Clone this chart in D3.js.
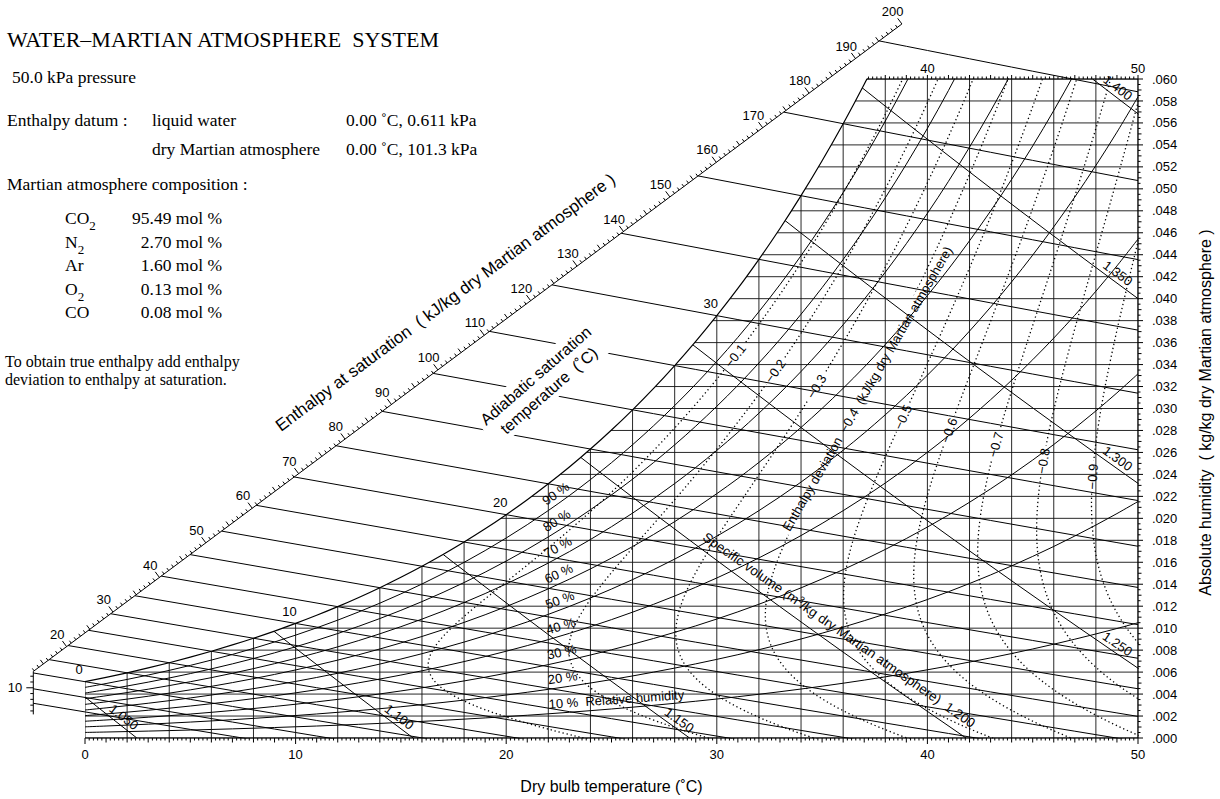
<!DOCTYPE html>
<html>
<head>
<meta charset="utf-8">
<title>Water–Martian atmosphere psychrometric chart</title>
<script src="https://cdn.jsdelivr.net/npm/d3@7/dist/d3.min.js"></script>
<style>
  html, body { margin: 0; padding: 0; background: #fff; }
  svg { display: block; }
  text { white-space: pre; fill: #000; }
  .serif { font-family: "Liberation Serif", "Times New Roman", Times, serif; }
  .sans { font-family: "Liberation Sans", Arial, Helvetica, sans-serif; }
  .ln { fill: none; stroke: #000; stroke-width: 1; }
  .grid { fill: none; stroke: #111; stroke-width: 0.9; }
  .dot { fill: none; stroke: #000; stroke-width: 1.3; stroke-dasharray: 1.3 2.8; }
</style>
</head>
<body>
<svg id="chart" width="1220" height="799"></svg>
<script>
// ---------------- chart data ----------------
const totalPressure = 50.0;                       // kPa
const gasNames   = ["CO", "N", "Ar", "O", "CO"];
const gasSubs    = ["2", "2", "", "2", ""];
const molPercent = [95.49, 2.70, 1.60, 0.13, 0.08];
const molarMass  = [44.010, 28.013, 39.948, 31.999, 28.010];
const waterMolarMass = 18.015;

// saturation vapour pressure of water (kPa) by temperature (°C)
const tableTemps = [-6, -5, -4, -3, -2, -1, 0, 1, 2, 3, 4, 5, 6, 7, 8, 9, 10, 11, 12, 13, 14, 15,
  16, 17, 18, 19, 20, 21, 22, 23, 24, 25, 26, 27, 28, 29, 30, 31, 32, 33, 34, 35, 36, 37, 38, 39,
  40, 41, 42, 43, 44, 45, 46, 47, 48, 49, 50];
const satPressure = [0.3689, 0.4017, 0.4375, 0.4760, 0.5177, 0.5626, 0.6113, 0.6571, 0.7060,
  0.7580, 0.8135, 0.8725, 0.9353, 1.0020, 1.0729, 1.1481, 1.2281, 1.3128, 1.4027, 1.4979, 1.5989,
  1.7057, 1.8187, 1.9380, 2.0647, 2.1978, 2.3392, 2.4878, 2.6452, 2.8104, 2.9856, 3.1698, 3.3637,
  3.5679, 3.7828, 4.0087, 4.2467, 4.4958, 4.7592, 5.0345, 5.3247, 5.6290, 5.9475, 6.2815, 6.6324,
  6.9993, 7.3844, 7.7858, 8.2090, 8.6499, 9.1118, 9.5944, 10.0988, 10.6265, 11.1764, 11.7502, 12.3513];

const gridTemps = [0, 2, 4, 6, 8, 10, 12, 14, 16, 18, 20, 22, 24, 26, 28, 30, 32, 34, 36, 38, 40,
  42, 44, 46, 48, 50];
const humidityTicks = [0.000, 0.002, 0.004, 0.006, 0.008, 0.010, 0.012, 0.014, 0.016, 0.018, 0.020,
  0.022, 0.024, 0.026, 0.028, 0.030, 0.032, 0.034, 0.036, 0.038, 0.040, 0.042, 0.044, 0.046, 0.048,
  0.050, 0.052, 0.054, 0.056, 0.058, 0.060];
const dryBulbTicks = [0, 10, 20, 30, 40, 50];
const topTempTicks = [40, 50];
const enthalpyTicks = [10, 20, 30, 40, 50, 60, 70, 80, 90, 100, 110, 120, 130, 140, 150, 160, 170,
  180, 190, 200];
const rhLevels = [10, 20, 30, 40, 50, 60, 70, 80, 90];
const adiabaticTemps = [-4, -2, 0, 2, 4, 6, 8, 10, 12, 14, 16, 18, 20, 22, 24, 26, 28, 30, 32, 34, 36, 38];
const adiabaticLabelTemps = [0, 10, 20, 30];
const volumeLevels = [1.05, 1.10, 1.15, 1.20, 1.25, 1.30, 1.35, 1.40];
const deviationLevels = [-0.1, -0.2, -0.3, -0.4, -0.5, -0.6, -0.7, -0.8, -0.9];

// property constants used to build the line families
const gasHeat = 0.80, vapourHeat = 1.86, liquidHeat = 4.186, latentHeat = 2501.0;
const gasConstant = 8.314, compressibility = 0.9963;
const deviationSpacing = 1.10;

// label placement
const rhLabelTemp = 22;
const devLabelHumidity = [0.0348, 0.0334, 0.0320, 0.0289, 0.0292, 0.0280, 0.0267, 0.0252, 0.0238];
const lowVolumeLabelHumidity = [0.0013, 0.0013, 0.0010];
const highVolumeLabelTemp = 48.8;

// ---------------- setup ----------------
const W = 1220, H = 799;
const svg = d3.select("#chart");
const defs = svg.append("defs");

const x = d3.scaleLinear().domain([0, 50]).range([85, 1138]);
const y = d3.scaleLinear().domain([0, 0.06]).range([738, 79]);
const P = d => [x(d[0]), y(d[1])];
const smooth = d3.line().curve(d3.curveCatmullRom.alpha(0.5));
const straight = d3.line();
const deg = r => r * 180 / Math.PI;
const angleOf = (a, b) => deg(Math.atan2(b[1] - a[1], b[0] - a[0]));

const gasMolarMass = d3.sum(molPercent, (p, i) => p * molarMass[i]) / d3.sum(molPercent);
const massRatio = waterMolarMass / gasMolarMass;
const humidityAt = p => massRatio * p / (totalPressure - p);
const satHumidity = satPressure.map(humidityAt);
const wsAt = t => satHumidity[tableTemps.indexOf(t)];
const psAt = t => satPressure[tableTemps.indexOf(t)];

// adiabatic saturation line through (ts, ws)
function adiabaticW(ts, t) {
  const ws = wsAt(ts);
  return (ws * (latentHeat + (vapourHeat - liquidHeat) * ts) - gasHeat * (t - ts)) /
         (latentHeat + vapourHeat * t - liquidHeat * ts);
}
function adiabaticT(ts, w) {
  const ws = wsAt(ts);
  return (ws * (latentHeat + (vapourHeat - liquidHeat) * ts) - w * (latentHeat - liquidHeat * ts) + gasHeat * ts) /
         (gasHeat + vapourHeat * w);
}
// specific volume
const volCoef = gasConstant / totalPressure * compressibility;
const volumeTemp = (v, w) => v / (volCoef * (1 / gasMolarMass + w / waterMolarMass)) - 273.15;
const volumeHumidity = (v, t) => (v / (volCoef * (t + 273.15)) - 1 / gasMolarMass) * waterMolarMass;

function textWidth(str, size, cls) {
  const t = svg.append("text").attr("class", cls || "sans").style("font-size", size + "px").text(str);
  const w = t.node().getComputedTextLength();
  t.remove();
  return w;
}

// ---------------- clip regions ----------------
const satPts = tableTemps.filter(t => t >= 0 && t <= 40).map(t => [t, wsAt(t)]);
const satPx = satPts.map(P);
const satD = smooth(satPx);
const regionD = satD + `L${x(50) + 30},${satPx[satPx.length - 1][1]}L${x(50) + 30},${y(0) + 30}L${x(0)},${y(0) + 30}Z`;

defs.append("clipPath").attr("id", "clip-frame").append("rect")
  .attr("x", x(0) - 0.6).attr("y", y(0.06) - 0.6)
  .attr("width", x(50) - x(0) + 1.2).attr("height", y(0) - y(0.06) + 1.2);
defs.append("clipPath").attr("id", "clip-under-sat").append("path").attr("d", regionD);
defs.append("clipPath").attr("id", "clip-lines").append("rect")
  .attr("x", 0).attr("y", 0).attr("width", x(50) + 0.6).attr("height", y(0) + 0.6);

const frameG = svg.append("g").attr("clip-path", "url(#clip-frame)");
const underG = frameG.append("g").attr("clip-path", "url(#clip-under-sat)");
const gridG = underG.append("g");
const rhG = underG.append("g");
const volG = underG.append("g");
const devG = underG.append("g").attr("mask", "url(#mask-dev)");
const satG = frameG.append("g");
const adiaG = svg.append("g").attr("clip-path", "url(#clip-lines)").append("g").attr("mask", "url(#mask-adia)");
const axisG = svg.append("g");
const labelG = svg.append("g").attr("class", "sans");

// ---------------- grid ----------------
gridG.selectAll("line.v").data(gridTemps).join("line").attr("class", "grid v")
  .attr("x1", d => x(d)).attr("x2", d => x(d)).attr("y1", y(0)).attr("y2", y(0.06));
gridG.selectAll("line.h").data(humidityTicks).join("line").attr("class", "grid h")
  .attr("x1", x(0)).attr("x2", x(50)).attr("y1", d => y(d)).attr("y2", d => y(d));

// ---------------- saturation and relative humidity ----------------
satG.append("path").attr("class", "ln").attr("d", satD).style("stroke-width", 1.2);

const rhCurves = rhLevels.map(rh => tableTemps.filter(t => t >= 0).map(t => {
  const p = rh / 100 * psAt(t);
  return [t, humidityAt(p)];
}));
rhG.selectAll("path").data(rhCurves).join("path").attr("class", "ln").attr("d", d => smooth(d.map(P)));

rhLevels.forEach((rh, i) => {
  const pts = rhCurves[i];
  const a = P(pts.find(p => p[0] === rhLabelTemp));
  const b = P(pts.find(p => p[0] === rhLabelTemp + 1));
  const ang = angleOf(a, b);
  labelG.append("text")
    .attr("transform", `translate(${a[0]},${a[1]}) rotate(${ang})`)
    .attr("x", 1).attr("y", -5).style("font-size", "13px")
    .text(rh === 10 ? `${rh} %  Relative humidity` : `${rh} %`);
});

// ---------------- specific volume ----------------
const volCurves = volumeLevels.map(v => humidityTicks.map(w => [volumeTemp(v, w), w]));
volG.selectAll("path").data(volCurves).join("path").attr("class", "ln").attr("d", d => straight(d.map(P)));

volumeLevels.forEach((v, i) => {
  const lbl = d3.format(".3f")(v);
  let w, t;
  if (i < 3) { w = lowVolumeLabelHumidity[i]; t = volumeTemp(v, w); }
  else if (i > 3) { t = highVolumeLabelTemp; w = volumeHumidity(v, t); }
  else { w = 0.0175; t = volumeTemp(v, w); }
  const a = P([t, w]);
  const b = P([volumeTemp(v, w - 0.002), w - 0.002]);
  const ang = angleOf(a, b);
  const txt = labelG.append("text").style("font-size", "13px");
  if (i === 3) {
    txt.attr("transform", `translate(${a[0]},${a[1]}) rotate(${ang - 1.5})`)
      .attr("x", 0).attr("y", -8).attr("text-anchor", "start").style("font-size", "13.5px");
    txt.append("tspan").text("Specific volume (m");
    txt.append("tspan").attr("dy", -5).style("font-size", "9px").text("3");
    txt.append("tspan").attr("dy", 5).text(`/kg dry Martian atmosphere)  ${lbl}`);
  } else {
    txt.attr("transform", `translate(${a[0]},${a[1]}) rotate(${ang})`)
      .attr("y", -4).attr("text-anchor", "middle").text(lbl);
  }
});

// ---------------- enthalpy deviation ----------------
const devCurves = deviationLevels.map(dv => {
  const pts = [];
  tableTemps.forEach(ts => {
    if (ts <= 0 || ts > 44) return;
    const w = wsAt(ts) + dv / (liquidHeat * ts * deviationSpacing);
    const t = adiabaticT(ts, w);
    if (w > -0.006 && t < 62) pts.push([t, w]);
  });
  return pts;
});
devG.selectAll("path").data(devCurves).join("path").attr("class", "dot").attr("d", d => smooth(d.map(P)));

function pointAtHumidity(pts, w) {
  for (let i = 1; i < pts.length; i++) {
    const a = pts[i - 1], b = pts[i];
    if ((a[1] - w) * (b[1] - w) <= 0 && a[1] !== b[1]) {
      const f = (w - a[1]) / (b[1] - a[1]);
      return { p: P([a[0] + f * (b[0] - a[0]), w]), ang: angleOf(P(a), P(b)) };
    }
  }
  return null;
}

const devMaskRects = [];
deviationLevels.forEach((dv, i) => {
  const hit = pointAtHumidity(devCurves[i], devLabelHumidity[i]);
  if (!hit) return;
  const lbl = d3.format(".1f")(dv);
  if (dv === -0.4) {
    const ang = -60;
    const u = [Math.cos(ang * Math.PI / 180), Math.sin(ang * Math.PI / 180)];
    const pre = "Enthalpy deviation  ";
    const full = `${pre}${lbl}  (kJ/kg dry Martian atmosphere)`;
    const lp = textWidth(pre, 13), lm = textWidth(lbl, 13), lf = textWidth(full, 13);
    const s = [hit.p[0] - (lp + lm / 2) * u[0], hit.p[1] - (lp + lm / 2) * u[1]];
    labelG.append("text").attr("transform", `translate(${s[0]},${s[1]}) rotate(${ang})`)
      .attr("dy", "0.35em").style("font-size", "13px").text(full);
    devMaskRects.push({ cx: s[0] + lf / 2 * u[0], cy: s[1] + lf / 2 * u[1], w: lf + 6, h: 13, a: ang });
  } else {
    labelG.append("text").attr("transform", `translate(${hit.p[0]},${hit.p[1]}) rotate(${hit.ang})`)
      .attr("text-anchor", "middle").attr("dy", "0.35em").style("font-size", "13px").text(lbl);
    devMaskRects.push({ cx: hit.p[0], cy: hit.p[1], w: textWidth(lbl, 13) + 6, h: 13, a: hit.ang });
  }
});

// ---------------- enthalpy scale ----------------
const enthX = d3.scaleLinear().domain([30, 200]).range([x(1.33), x(38.79)]);
const enthY = d3.scaleLinear().domain([30, 200]).range([y(0.01147), y(0.06501)]);
const hCorner = wsAt(0) * latentHeat;     // saturation enthalpy at 0 °C
const hBottom = 5.4;
const dirX = enthX(200) - enthX(30), dirY = enthY(200) - enthY(30);
const dirLen = Math.hypot(dirX, dirY);
const pxPerKJ = dirLen / 170;
const nDiag = [dirY / dirLen, -dirX / dirLen];
const scaleAngle = deg(Math.atan2(dirY, dirX));
const scalePos = h => h >= hCorner ? [enthX(h), enthY(h)]
  : [enthX(hCorner), enthY(hCorner) + (hCorner - h) * pxPerKJ];
const scaleNormal = h => h >= hCorner ? nDiag : [-1, 0];

axisG.append("path").attr("class", "ln")
  .attr("d", straight([scalePos(hBottom), scalePos(hCorner), scalePos(200)]));
const hTickVals = d3.range(6, 201);
axisG.selectAll("line.et").data(hTickVals).join("line").attr("class", "ln et")
  .each(function (h) {
    const p = scalePos(h), n = scaleNormal(h);
    const len = h % 10 === 0 ? 7 : (h % 5 === 0 ? 5 : 3);
    d3.select(this).attr("x1", p[0]).attr("y1", p[1]).attr("x2", p[0] + n[0] * len).attr("y2", p[1] + n[1] * len);
  });
enthalpyTicks.forEach(h => {
  const p = scalePos(h);
  if (h < hCorner) {
    labelG.append("text").attr("x", p[0] - 11).attr("y", p[1]).attr("dy", "0.35em")
      .attr("text-anchor", "end").style("font-size", "13px").text(h);
  } else {
    labelG.append("text").attr("x", p[0] + nDiag[0] * 15.5).attr("y", p[1] + nDiag[1] * 15.5)
      .attr("dy", "0.35em").attr("text-anchor", "middle").style("font-size", "13px").text(h);
  }
});
{
  const c = scalePos(108);
  labelG.append("text")
    .attr("transform", `translate(${c[0] + nDiag[0] * 44},${c[1] + nDiag[1] * 44}) rotate(${scaleAngle})`)
    .attr("text-anchor", "middle").style("font-size", "17px")
    .text("Enthalpy at saturation  ( kJ/kg dry Martian atmosphere )");
}

// ---------------- adiabatic saturation lines ----------------
const A0 = scalePos(hCorner), B0 = scalePos(200), Bot = scalePos(hBottom);
function scaleHit(p0, p1) {
  const dx = p1[0] - p0[0], dy = p1[1] - p0[1];
  const ex = B0[0] - A0[0], ey = B0[1] - A0[1];
  const den = dx * ey - dy * ex;
  const rx = A0[0] - p0[0], ry = A0[1] - p0[1];
  if (Math.abs(den) > 1e-9) {
    const s = (rx * ey - ry * ex) / den;
    const u = (rx * dy - ry * dx) / den;
    if (u >= 0 && u <= 1) return [p0[0] + s * dx, p0[1] + s * dy];
  }
  const s = rx / dx;
  const yy = p0[1] + s * dy;
  if (yy >= A0[1] && yy <= Bot[1]) return [A0[0], yy];
  return null;
}
const adiaPaths = adiabaticTemps.map(ts => {
  const pts = [];
  for (let t = ts; t <= 50; t += 1) pts.push(P([t, adiabaticW(ts, t)]));
  const hit = scaleHit(pts[0], pts[1]);
  if (!hit) return pts;
  return [hit].concat(pts.filter(p => p[0] > hit[0] + 0.5));
});
adiaG.selectAll("path").data(adiaPaths).join("path").attr("class", "ln").attr("d", d => straight(d));

adiabaticLabelTemps.forEach(ts => {
  labelG.append("text").attr("x", x(ts) - 6).attr("y", y(wsAt(ts)) - 12).attr("dy", "0.35em")
    .attr("text-anchor", "middle").style("font-size", "13px").text(ts);
});

const adiaMaskRects = [];
{
  const c = P([21.4, 0.033]);
  const ang = -41;
  const g = labelG.append("g").attr("transform", `translate(${c[0]},${c[1]}) rotate(${ang})`);
  g.append("text").attr("text-anchor", "middle").attr("dy", "0.35em").style("font-size", "16px")
    .text("Adiabatic saturation");
  g.append("text").attr("text-anchor", "middle").attr("y", 20).attr("dy", "0.35em").style("font-size", "16px")
    .text("temperature  (˚C)");
  const wMax = Math.max(textWidth("Adiabatic saturation", 16), textWidth("temperature  (˚C)", 16));
  const u = [Math.cos(ang * Math.PI / 180), Math.sin(ang * Math.PI / 180)];
  const nrm = [-u[1], u[0]];
  adiaMaskRects.push({ cx: c[0] + nrm[0] * 10, cy: c[1] + nrm[1] * 10, w: wMax + 10, h: 42, a: ang });
}

// ---------------- masks ----------------
function buildMask(id, rects) {
  const m = defs.append("mask").attr("id", id).attr("maskUnits", "userSpaceOnUse")
    .attr("x", -50).attr("y", -50).attr("width", W + 100).attr("height", H + 100);
  m.append("rect").attr("x", -50).attr("y", -50).attr("width", W + 100).attr("height", H + 100).attr("fill", "#fff");
  rects.forEach(r => m.append("rect").attr("x", -r.w / 2).attr("y", -r.h / 2).attr("width", r.w).attr("height", r.h)
    .attr("transform", `translate(${r.cx},${r.cy}) rotate(${r.a})`).attr("fill", "#000"));
}
buildMask("mask-dev", devMaskRects);
buildMask("mask-adia", adiaMaskRects);

// ---------------- axes ----------------
// bottom
axisG.append("line").attr("class", "ln").attr("x1", x(0)).attr("x2", x(50)).attr("y1", y(0)).attr("y2", y(0));
const bottomTicks = d3.range(0, 251).map(i => ({ v: i / 5, len: i % 50 === 0 ? 6 : (i % 5 === 0 ? 4.5 : 2.5) }));
axisG.selectAll("line.bt").data(bottomTicks).join("line").attr("class", "ln bt")
  .attr("x1", d => x(d.v)).attr("x2", d => x(d.v)).attr("y1", y(0)).attr("y2", d => y(0) + d.len);
labelG.selectAll("text.bl").data(dryBulbTicks).join("text").attr("class", "bl")
  .attr("x", d => x(d)).attr("y", y(0) + 21).attr("text-anchor", "middle").style("font-size", "13px").text(d => d);

// right
axisG.append("line").attr("class", "ln").attr("x1", x(50)).attr("x2", x(50)).attr("y1", y(0)).attr("y2", y(0.06));
const rightTicks = d3.range(0, 121).map(i => ({ v: i * 0.0005, len: i % 4 === 0 ? 5 : (i % 2 === 0 ? 3.5 : 2.5) }));
axisG.selectAll("line.rt").data(rightTicks).join("line").attr("class", "ln rt")
  .attr("x1", x(50)).attr("x2", d => x(50) + d.len).attr("y1", d => y(d.v)).attr("y2", d => y(d.v));
labelG.selectAll("text.rl").data(humidityTicks).join("text").attr("class", "rl")
  .attr("x", x(50) + 14).attr("y", d => y(d)).attr("dy", "0.35em").style("font-size", "13px")
  .text(d => d3.format(".3f")(d).replace(/^0/, ""));

// top (only where the chart is below saturation)
const topG = svg.append("g").attr("clip-path", "url(#clip-under-sat)");
topG.append("line").attr("class", "ln").attr("x1", x(0)).attr("x2", x(50)).attr("y1", y(0.06)).attr("y2", y(0.06));
topG.selectAll("line.tt").data(bottomTicks).join("line").attr("class", "ln tt")
  .attr("x1", d => x(d.v)).attr("x2", d => x(d.v)).attr("y1", y(0.06)).attr("y2", d => y(0.06) - Math.min(d.len, 4));
labelG.selectAll("text.tl").data(topTempTicks).join("text").attr("class", "tl")
  .attr("x", d => x(d)).attr("y", y(0.06) - 6).attr("text-anchor", "middle").style("font-size", "13px").text(d => d);

// axis titles
labelG.append("text").attr("x", (x(0) + x(50)) / 2).attr("y", 792).attr("text-anchor", "middle")
  .style("font-size", "16px").text("Dry bulb temperature (˚C)");
labelG.append("text").attr("transform", `translate(1211,${(y(0) + y(0.06)) / 2 + 4}) rotate(-90)`)
  .attr("text-anchor", "middle").style("font-size", "16px")
  .text("Absolute humidity  ( kg/kg dry Martian atmosphere )");

// ---------------- description block ----------------
const info = svg.append("g").attr("class", "serif");
info.append("text").attr("x", 7).attr("y", 47).style("font-size", "22px").text("WATER–MARTIAN ATMOSPHERE  SYSTEM");
info.append("text").attr("x", 12).attr("y", 83).style("font-size", "17.5px").text(`${d3.format(".1f")(totalPressure)} kPa pressure`);
info.append("text").attr("x", 7).attr("y", 126).style("font-size", "17.5px").text("Enthalpy datum :");
info.append("text").attr("x", 152).attr("y", 126).style("font-size", "17.5px").text("liquid water");
info.append("text").attr("x", 346).attr("y", 126).style("font-size", "17.5px").text("0.00 ˚C, 0.611 kPa");
info.append("text").attr("x", 152).attr("y", 155).style("font-size", "17.5px").text("dry Martian atmosphere");
info.append("text").attr("x", 346).attr("y", 155).style("font-size", "17.5px").text("0.00 ˚C, 101.3 kPa");
info.append("text").attr("x", 7).attr("y", 190).style("font-size", "17.5px").text("Martian atmosphere composition :");
gasNames.forEach((g, i) => {
  const yy = 224 + i * 23.5;
  const t = info.append("text").attr("x", 65).attr("y", yy).style("font-size", "17.5px");
  t.append("tspan").text(g);
  if (gasSubs[i]) t.append("tspan").attr("dy", 6).style("font-size", "13px").text(gasSubs[i]);
  info.append("text").attr("x", 222).attr("y", yy).attr("text-anchor", "end").style("font-size", "17.5px")
    .text(`${d3.format(".2f")(molPercent[i])} mol %`);
});
info.append("text").attr("x", 5).attr("y", 367).style("font-size", "16px").text("To obtain true enthalpy add enthalpy");
info.append("text").attr("x", 5).attr("y", 385).style("font-size", "16px").text("deviation to enthalpy at saturation.");
</script>
</body>
</html>
